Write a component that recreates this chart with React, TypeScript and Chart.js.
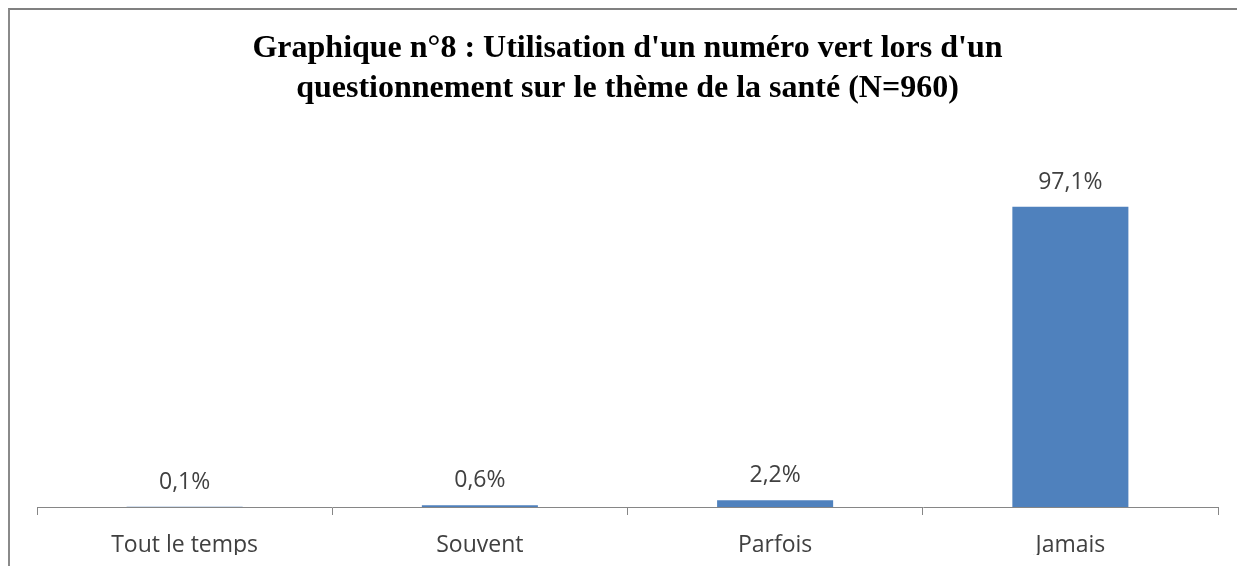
import React, { useEffect, useRef } from "react";
import { Chart, registerables } from "chart.js";

Chart.register(...registerables);

const titleLines = [
  "Graphique n°8 : Utilisation d'un numéro vert lors d'un",
  "questionnement sur le thème de la santé (N=960)",
];
const categories = ["Tout le temps", "Souvent", "Parfois", "Jamais"];
const values = [0.1, 0.6, 2.2, 97.1];
const valueLabels = ["0,1%", "0,6%", "2,2%", "97,1%"];

const labelPlugin = {
  id: "valueLabels",
  afterDatasetsDraw(chart: any) {
    const ctx = chart.ctx;
    const meta = chart.getDatasetMeta(0);
    ctx.save();
    ctx.font = "23px 'Open Sans'";
    ctx.fillStyle = "#404040";
    ctx.textAlign = "center";
    ctx.textBaseline = "alphabetic";
    meta.data.forEach((bar: any, i: number) => {
      ctx.fillText(valueLabels[i], bar.x, bar.y - 18);
    });
    ctx.restore();
  },
};

export default function App() {
  const ref = useRef<HTMLCanvasElement | null>(null);
  useEffect(() => {
    if (!ref.current) return;
    const chart = new Chart(ref.current, {
      type: "bar",
      data: {
        labels: categories,
        datasets: [
          {
            data: values,
            backgroundColor: "#4F81BD",
            borderWidth: 0,
            categoryPercentage: 1,
            barPercentage: 0.393,
          },
        ],
      },
      options: {
        responsive: false,
        animation: false,
        layout: { padding: { left: 27, right: 25, top: 0, bottom: 11 } },
        plugins: {
          legend: { display: false },
          tooltip: { enabled: false },
          title: {
            display: true,
            text: titleLines,
            color: "#000000",
            font: { family: "'Liberation Serif'", size: 32, weight: "bold", lineHeight: 40 / 32 },
            padding: { top: 19, bottom: 27 },
          },
        },
        scales: {
          y: { display: false, min: 0, max: 120 },
          x: {
            grid: {
              drawOnChartArea: false,
              drawTicks: true,
              tickLength: 8,
              color: "#868686",
              offset: true,
            },
            border: { display: true, color: "#868686", width: 1 },
            ticks: {
              color: "#404040",
              font: { family: "'Open Sans'", size: 23 },
              padding: 17,
            },
            afterFit(scale: any) {
              scale.height = 48;
            },
          },
        },
      },
      plugins: [labelPlugin],
    });
    return () => chart.destroy();
  }, []);

  return (
    <div
      style={{
        width: 1233,
        height: 570,
        borderTop: "2px solid #808080",
        borderLeft: "2px solid #8a8a8a",
        borderRight: "1px solid #e2e2e2",
        background: "#ffffff",
        overflow: "hidden",
      }}
    >
      <canvas ref={ref} width={1233} height={556} style={{ display: "block" }} />
    </div>
  );
}
